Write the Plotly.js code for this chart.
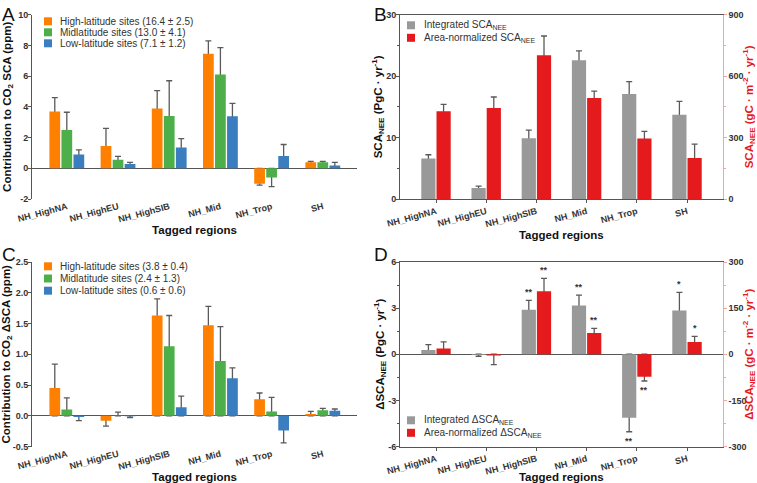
<!DOCTYPE html>
<html><head><meta charset="utf-8">
<script src="https://cdn.plot.ly/plotly-3.0.1.min.js"></script>
<style>html,body{margin:0;padding:0;background:#fff}#chart{width:757px;height:483px}</style>
</head><body><div id="chart"></div>
<script>
// ---------- DATA ----------
const regions = ['NH_HighNA','NH_HighEU','NH_HighSIB','NH_Mid','NH_Trop','SH'];

// Panel A: contribution to CO2 SCA (ppm); *End = end of error bar
const aHigh    = [3.7, 1.45, 3.9, 7.45, -1.0, 0.4];
const aHighEnd = [4.6, 2.6, 5.05, 8.3, -1.1, 0.45];
const aMid     = [2.5, 0.55, 3.4, 6.1, -0.6, 0.4];
const aMidEnd  = [3.65, 0.78, 5.7, 7.85, -1.2, 0.45];
const aLow     = [0.9, 0.28, 1.35, 3.38, 0.8, 0.18];
const aLowEnd  = [1.2, 0.38, 1.93, 4.22, 1.55, 0.38];
const aLegend  = ['High-latitude sites (16.4 ± 2.5)', 'Midlatitude sites (13.0 ± 4.1)', 'Low-latitude sites (7.1 ± 1.2)'];
const aTickVals = [-2, 0, 2, 4, 6, 8, 10];
const aTickText = ['-2', '0', '2', '4', '6', '8', '10'];

// Panel B: SCA_NEE integrated (PgC/yr, left) and area-normalized (gC/m2/yr, right)
const bInt     = [6.6, 1.8, 9.9, 22.6, 17.1, 13.7];
const bIntEnd  = [7.2, 2.1, 11.2, 24.1, 19.1, 15.9];
const bArea    = [428, 444, 702, 493, 296, 200];
const bAreaEnd = [462, 498, 796, 527, 330, 268];
const bLegend  = ['Integrated SCA<sub>NEE</sub>', 'Area-normalized SCA<sub>NEE</sub>'];
const bLeftTicks  = [0, 10, 20, 30];
const bRightTicks = [0, 300, 600, 900];

// Panel C: contribution to CO2 ΔSCA (ppm)
const cHigh    = [0.45, -0.08, 1.63, 1.47, 0.27, 0.03];
const cHighEnd = [0.84, -0.17, 1.90, 1.78, 0.37, 0.07];
const cMid     = [0.10, 0.005, 1.13, 0.89, 0.07, 0.09];
const cMidEnd  = [0.29, 0.06, 1.63, 1.45, 0.30, 0.12];
const cLow     = [-0.02, -0.01, 0.14, 0.61, -0.24, 0.08];
const cLowEnd  = [-0.08, -0.03, 0.32, 0.78, -0.44, 0.11];
const cLegend  = ['High-latitude sites (3.8 ± 0.4)', 'Midlatitude sites (2.4 ± 1.3)', 'Low-latitude sites (0.6 ± 0.6)'];
const cTickVals = [-0.5, 0, 0.5, 1, 1.5, 2, 2.5];
const cTickText = ['-0.5', '0.0', '0.5', '1.0', '1.5', '2.0', '2.5'];

// Panel D: ΔSCA_NEE
const dInt     = [0.28, -0.05, 2.9, 3.17, -4.13, 2.85];
const dIntEnd  = [0.63, -0.13, 3.5, 3.85, -5.04, 4.02];
const dArea    = [19, -4, 205, 69, -73, 40];
const dAreaEnd = [40, -34, 247, 84, -87, 58];
const dIntStars  = ['', '', '**', '**', '**', '*'];
const dAreaStars = ['', '', '**', '**', '**', '*'];
const dLegend  = ['Integrated ΔSCA<sub>NEE</sub>', 'Area-normalized ΔSCA<sub>NEE</sub>'];
const dLeftTicks = [-6, -3, 0, 3, 6];
const dLeftText  = ['-6', '-3', '0', '3', '6'];
const dRightTicks = [-300, -150, 0, 150, 300];
const dRightText  = ['-300', '-150', '0', '150', '300'];

// ---------- STYLE ----------
const W = 757, H = 483;
const FAM = 'Arial, "Liberation Sans", sans-serif';
const cOrange = '#FF8000', cGreen = '#4DAF4A', cBlue = '#3A7EBF', cGray = '#999999', cRed = '#E41A1C';
const latColors = [cOrange, cGreen, cBlue];
const neeColors = [cGray, cRed];
const errColor = '#5a5a5a';
const axisColor = '#555555';
const pink = '#F5A3A3';
const px = x => x / W;
const py = y => 1 - y / H;

const tickFont  = {family: FAM, size: 9, color: '#333', weight: 700};
const titleFont = {family: FAM, size: 11.5, color: '#111', weight: 700};
const redTitleFont = {family: FAM, size: 11.5, color: cRed, weight: 700};

// group offsets (category units)
const wA = 0.21, offA = [-0.34, -0.105, 0.13];
const wB = 0.283, offB = [-0.293, 0.01];

const errTraces = [], barTraces = [];
function addSeries(vals, ends, color, xa, ya, offset, width, name) {
  const up = vals.map((v, i) => v >= 0 ? ends[i] - v : -v);
  const dn = vals.map((v, i) => v >= 0 ? v : v - ends[i]);
  errTraces.push({type: 'bar', x: regions, y: vals, xaxis: xa, yaxis: ya, offset: offset, width: width,
    marker: {color: 'rgba(0,0,0,0)'}, showlegend: false, hoverinfo: 'skip',
    error_y: {type: 'data', symmetric: false, array: up, arrayminus: dn, color: errColor, thickness: 1.3, width: 3}});
  barTraces.push({type: 'bar', name: name, x: regions, y: vals, xaxis: xa, yaxis: ya, offset: offset, width: width,
    marker: {color: color, line: {width: 0}}, showlegend: false});
}
addSeries(aHigh, aHighEnd, latColors[0], 'x', 'y', offA[0], wA, aLegend[0]);
addSeries(aMid,  aMidEnd,  latColors[1], 'x', 'y', offA[1], wA, aLegend[1]);
addSeries(aLow,  aLowEnd,  latColors[2], 'x', 'y', offA[2], wA, aLegend[2]);
addSeries(bInt,  bIntEnd,  neeColors[0], 'x2', 'y2', offB[0], wB, bLegend[0]);
addSeries(bArea, bAreaEnd, neeColors[1], 'x2', 'y3', offB[1], wB, bLegend[1]);
addSeries(cHigh, cHighEnd, latColors[0], 'x3', 'y4', offA[0], wA, cLegend[0]);
addSeries(cMid,  cMidEnd,  latColors[1], 'x3', 'y4', offA[1], wA, cLegend[1]);
addSeries(cLow,  cLowEnd,  latColors[2], 'x3', 'y4', offA[2], wA, cLegend[2]);
addSeries(dInt,  dIntEnd,  neeColors[0], 'x4', 'y5', offB[0], wB, dLegend[0]);
addSeries(dArea, dAreaEnd, neeColors[1], 'x4', 'y6', offB[1], wB, dLegend[1]);

// ---------- LAYOUT ----------
const domAx = [px(32), px(357)], domBx = [px(400), px(722.7)];
const domTop = [py(199), py(14.7)], domBot = [py(446.5), py(262)];
const rangeA = [-0.68, 5.668], rangeB = [-0.717, 5.711];

function xCat(domain, anchor, range, framed) {
  return {domain, anchor, type: 'category', range, tickangle: -15, tickfont: tickFont,
    showgrid: false, zeroline: false, fixedrange: true,
    showline: framed, mirror: framed, linecolor: axisColor, linewidth: 1,
    ticks: framed ? 'outside' : '', ticklen: 3, tickcolor: axisColor,
    title: {text: 'Tagged regions', font: titleFont, standoff: 1}};
}
function yLin(domain, anchor, range, tickvals, ticktext, title, opts) {
  return Object.assign({domain, anchor, range, tickmode: 'array', tickvals, ticktext, tickfont: tickFont,
    showgrid: false, showline: true, linecolor: axisColor, linewidth: 1, ticks: 'outside', ticklen: 3,
    tickcolor: axisColor, zeroline: false, fixedrange: true, ticklabelstandoff: -2,
    title: {text: title, font: titleFont, standoff: 4}}, opts || {});
}

const annotations = [];
const shapes = [];
// panel letters
[['A', 0, 2], ['B', 372, 2], ['C', 0, 242], ['D', 372, 242]].forEach(([t, x, y]) => {
  annotations.push({text: t, xref: 'paper', yref: 'paper', x: px(x), y: py(y), xanchor: 'left', yanchor: 'top',
    showarrow: false, font: {family: FAM, size: 19, color: '#111'}});
});
// legends (swatch + text)
function legend(labels, colors, sx, tx, ys) {
  labels.forEach((lab, i) => {
    shapes.push({type: 'rect', xref: 'paper', yref: 'paper', x0: px(sx), x1: px(sx + 8),
      y0: py(ys[i] + 4), y1: py(ys[i] - 4), fillcolor: colors[i], line: {width: 0}});
    annotations.push({text: lab, xref: 'paper', yref: 'paper', x: px(tx), y: py(ys[i]), xanchor: 'left',
      yanchor: 'middle', showarrow: false, font: {family: FAM, size: 10, color: '#333'}});
  });
}
legend(aLegend, latColors, 44, 58, [21.3, 32.3, 43.3]);
legend(bLegend, neeColors, 407, 422, [25.3, 37.8]);
legend(cLegend, latColors, 44, 58, [266.3, 278.5, 290.7]);
legend(dLegend, neeColors, 407, 422, [420.3, 432.8]);
// significance stars
function stars(marks, ends, off, w, yref) {
  marks.forEach((m, i) => {
    if (!m) return;
    annotations.push({text: m, xref: 'x4', yref: yref, x: i + off + w / 2, y: ends[i],
      yshift: ends[i] >= 0 ? 8 : -9, xanchor: 'center', yanchor: 'middle', showarrow: false,
      font: {family: FAM, size: 9, color: '#333', weight: 700}});
  });
}
stars(dIntStars, dIntEnd, offB[0], wB, 'y5');
stars(dAreaStars, dAreaEnd, offB[1], wB, 'y6');

const layout = {
  width: W, height: H, margin: {l: 0, r: 0, t: 0, b: 0}, paper_bgcolor: '#fff', plot_bgcolor: 'rgba(0,0,0,0)',
  font: {family: FAM, color: '#333'}, barmode: 'overlay', showlegend: false,
  xaxis:  xCat(domAx, 'y', rangeA, false),
  xaxis2: xCat(domBx, 'y2', rangeB, true),
  xaxis3: xCat(domAx, 'y4', rangeA, false),
  xaxis4: xCat(domBx, 'y5', rangeB, true),
  yaxis: yLin(domTop, 'x', [-2, 10], aTickVals, aTickText, 'Contribution to CO<sub>2</sub> SCA (ppm)',
    {zeroline: true, zerolinecolor: axisColor, zerolinewidth: 1}),
  yaxis2: yLin(domTop, 'x2', [0, 30], bLeftTicks, bLeftTicks.map(String), 'SCA<sub>NEE</sub> (PgC · yr<sup>-1</sup>)',
    {minor: {tickmode: 'linear', dtick: 5, ticks: 'outside', ticklen: 2, tickcolor: axisColor}}),
  yaxis3: yLin(domTop, 'x2', [0, 900], bRightTicks, bRightTicks.map(String), 'SCA<sub>NEE</sub> (gC · m<sup>-2</sup> · yr<sup>-1</sup>)',
    {overlaying: 'y2', side: 'right', linecolor: pink, tickcolor: pink, ticklabelstandoff: 0,
     minor: {tickmode: 'linear', dtick: 150, ticks: 'outside', ticklen: 2, tickcolor: pink}}),
  yaxis4: yLin(domBot, 'x3', [-0.5, 2.5], cTickVals, cTickText, 'Contribution to CO<sub>2</sub> ΔSCA (ppm)',
    {zeroline: true, zerolinecolor: axisColor, zerolinewidth: 1}),
  yaxis5: yLin(domBot, 'x4', [-6, 6], dLeftTicks, dLeftText, 'ΔSCA<sub>NEE</sub> (PgC · yr<sup>-1</sup>)',
    {zeroline: true, zerolinecolor: axisColor, zerolinewidth: 1,
     minor: {tickmode: 'linear', dtick: 1.5, ticks: 'outside', ticklen: 2, tickcolor: axisColor}}),
  yaxis6: yLin(domBot, 'x4', [-300, 300], dRightTicks, dRightText, 'ΔSCA<sub>NEE</sub> (gC · m<sup>-2</sup> · yr<sup>-1</sup>)',
    {overlaying: 'y5', side: 'right', linecolor: pink, tickcolor: pink, ticklabelstandoff: 0,
     minor: {tickmode: 'linear', dtick: 75, ticks: 'outside', ticklen: 2, tickcolor: pink}}),
  annotations, shapes
};
layout.yaxis2.title.standoff = 1;
layout.yaxis5.title.standoff = 1;
layout.yaxis3.title.font = redTitleFont;
layout.yaxis6.title.font = redTitleFont;

Plotly.newPlot('chart', errTraces.concat(barTraces), layout, {staticPlot: true, displayModeBar: false});
</script>
</body></html>
